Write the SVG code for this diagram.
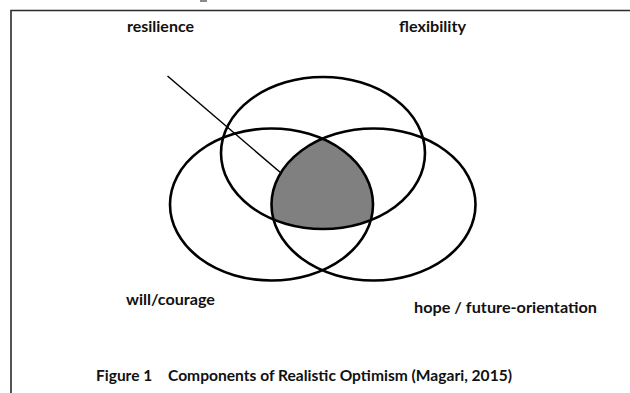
<svg xmlns="http://www.w3.org/2000/svg" width="630" height="393" viewBox="0 0 630 393">
  <style>
    .ring { fill: none; stroke: #000; stroke-width: 2.6; }
    .label { font-family: Lato, "Liberation Sans", sans-serif; font-weight: bold; font-size: 15.5px; fill: #111; }
    .frame { fill: none; stroke: #2b2b2b; stroke-width: 1.6; }
    .leader { fill: none; stroke: #000; stroke-width: 1.5; }
  </style>
  <defs>
    <clipPath id="clipTop"><ellipse cx="323" cy="153" rx="102" ry="76"/></clipPath>
    <clipPath id="clipRight"><ellipse cx="373.5" cy="204.5" rx="102" ry="76"/></clipPath>
  </defs>

  <rect width="630" height="393" fill="#fff"/>
  <!-- stray mark at the top edge -->
  <rect x="200" y="0" width="7" height="2" fill="#8a8a8a"/>
  <!-- open frame: left and top sides -->
  <path class="frame" d="M11,394 V10.5 H631"/>

  <!-- shared core of the three circles -->
  <g id="core">
    <g clip-path="url(#clipTop)">
      <ellipse cx="271.5" cy="204.5" rx="101.5" ry="76" fill="#808080" clip-path="url(#clipRight)"/>
    </g>
  </g>

  <g id="flexibility">
    <ellipse class="ring" cx="323" cy="153" rx="102" ry="76"/>
    <text class="label" x="399" y="32" textLength="67" lengthAdjust="spacingAndGlyphs">flexibility</text>
  </g>
  <g id="will-courage">
    <ellipse class="ring" cx="271.5" cy="204.5" rx="101.5" ry="76"/>
    <text class="label" x="126" y="305" textLength="89" lengthAdjust="spacingAndGlyphs">will/courage</text>
  </g>
  <g id="hope">
    <ellipse class="ring" cx="373.5" cy="204.5" rx="102" ry="76"/>
    <text class="label" x="414" y="313" textLength="183" lengthAdjust="spacingAndGlyphs">hope / future-orientation</text>
  </g>
  <g id="resilience">
    <text class="label" x="127" y="32" textLength="67" lengthAdjust="spacingAndGlyphs">resilience</text>
  </g>

  <g id="connectors">
    <line class="leader" x1="167.5" y1="76" x2="281" y2="173"/>
  </g>

  <g id="caption">
    <text class="label" x="96" y="381">Figure 1</text>
    <text class="label" x="168" y="381" textLength="344" lengthAdjust="spacingAndGlyphs">Components of Realistic Optimism (Magari, 2015)</text>
  </g>
</svg>
